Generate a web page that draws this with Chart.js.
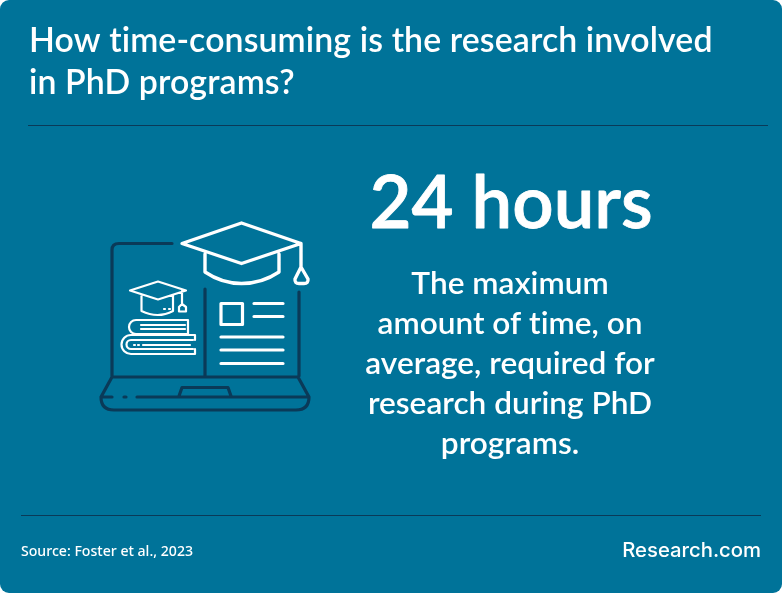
<!DOCTYPE html>
<html>
<head>
<meta charset="utf-8">
<title>PhD research time</title>
<script src="https://cdn.jsdelivr.net/npm/chart.js@4"></script>
<style>
  html, body { margin: 0; padding: 0; background: #fff; }
  canvas { display: block; }
</style>
</head>
<body>
<canvas id="chart" width="782" height="593"></canvas>
<script>
// Data
const categories = ["Maximum average research time"];
const hoursValues = [24];
const valueUnit = "hours";
const titleLines = ["How time-consuming is the research involved", "in PhD programs?"];
const bodyLines = ["The maximum", "amount of time, on", "average, required for", "research during PhD", "programs."];
const sourceText = "Source: Foster et al., 2023";
const brandText = "Research.com";

const PANEL = "#007399";
const DARK  = "#0a3a58";
const WHITE = "#ffffff";
const HEAD_FONT = "Lato, 'Noto Sans', sans-serif";

/* ──────────────────────────────────────────────────────────────
   Small helpers for the line illustration
   ────────────────────────────────────────────────────────────── */
function stroke(ctx, color, width, draw) {
  ctx.save();
  ctx.strokeStyle = color;
  ctx.lineWidth = width;
  ctx.lineCap = "round";
  ctx.lineJoin = "round";
  ctx.beginPath();
  draw(ctx);
  ctx.stroke();
  ctx.restore();
}

function seg(ctx, x1, y1, x2, y2) {
  ctx.moveTo(x1, y1);
  ctx.lineTo(x2, y2);
}

// The big headline is a touch light next to the original, so thicken it a little
function heavyText(ctx, text, x, y, weight) {
  ctx.lineWidth = weight;
  ctx.lineJoin = "round";
  ctx.strokeStyle = WHITE;
  ctx.strokeText(text, x, y);
  ctx.fillText(text, x, y);
}

function drawLaptop(ctx) {
  stroke(ctx, DARK, 3.2, c => {
    c.moveTo(112, 376);
    c.lineTo(112, 250);
    c.quadraticCurveTo(112, 243.5, 119, 243.5);
    c.lineTo(172, 243.5);
    seg(c, 205, 289, 205, 376);
    seg(c, 299, 292, 299, 376);
    // base
    c.moveTo(112, 377);
    c.lineTo(298, 377);
    c.lineTo(309, 397);
    c.quadraticCurveTo(309, 410, 296, 410);
    c.lineTo(114, 410);
    c.quadraticCurveTo(101, 410, 101, 397);
    c.closePath();
    // keyboard line with the gap and dot
    seg(c, 101, 397, 112, 397);
    seg(c, 124, 397, 126, 397);
    seg(c, 137, 397, 309, 397);
    // trackpad
    c.moveTo(179, 396);
    c.lineTo(182, 387.5);
    c.lineTo(228, 387.5);
    c.lineTo(231, 396);
  });
}

function drawBigCap(ctx) {
  stroke(ctx, WHITE, 3.4, c => {
    c.moveTo(182, 243.5);
    c.lineTo(241.5, 223);
    c.lineTo(301, 243.5);
    c.lineTo(241.5, 263.5);
    c.closePath();
    c.moveTo(205, 254);
    c.lineTo(205, 272);
    c.quadraticCurveTo(222, 283.5, 241.5, 283.5);
    c.quadraticCurveTo(262, 283.5, 279, 272);
    c.lineTo(279, 254);
    // tassel
    c.moveTo(301, 243.5);
    c.lineTo(301, 267);
    c.lineTo(295, 279);
    c.quadraticCurveTo(294.5, 283.5, 299, 283.5);
    c.lineTo(304, 283.5);
    c.quadraticCurveTo(308.5, 283.5, 308, 279);
    c.lineTo(301, 267);
  });
}

function drawSmallCap(ctx) {
  stroke(ctx, WHITE, 2.2, c => {
    c.moveTo(130, 290.5);
    c.lineTo(158, 281.5);
    c.lineTo(186, 290.5);
    c.lineTo(158, 299.5);
    c.closePath();
    c.moveTo(141.5, 295.5);
    c.lineTo(141.5, 311);
    c.quadraticCurveTo(158, 319, 173, 311);
    c.lineTo(173, 295.5);
    seg(c, 164, 309, 165, 309);
    seg(c, 169, 309, 170, 309);
    // tassel
    c.moveTo(182, 291);
    c.lineTo(182, 304);
    c.lineTo(179, 307);
    c.lineTo(179, 311.5);
    c.lineTo(186, 311.5);
    c.lineTo(186, 307);
    c.lineTo(182, 304);
  });
}

function drawBooks(ctx) {
  stroke(ctx, WHITE, 2.2, c => {
    // top book
    c.moveTo(188, 320);
    c.lineTo(136, 320);
    c.arc(136, 327, 7, -Math.PI / 2, Math.PI / 2, true);
    c.lineTo(188, 334);
    c.moveTo(188, 320);
    c.lineTo(188, 334);
    seg(c, 141, 325, 185, 325);
    seg(c, 141, 329, 185, 329);
    // lower book
    c.moveTo(195, 335);
    c.lineTo(131, 335);
    c.arc(131, 344.5, 9.5, -Math.PI / 2, Math.PI / 2, true);
    c.lineTo(195, 354);
    seg(c, 195, 335, 195, 340);
    seg(c, 195, 349, 195, 354);
    c.moveTo(193, 340);
    c.lineTo(131, 340);
    c.arc(131, 344.5, 4.5, -Math.PI / 2, Math.PI / 2, true);
    c.lineTo(193, 349);
    seg(c, 134, 345, 135, 345);
    seg(c, 138, 345, 139, 345);
    seg(c, 143, 345, 190, 345);
  });
}

function drawDocument(ctx) {
  stroke(ctx, WHITE, 3.2, c => {
    c.rect(221, 303.5, 21.5, 21);
    seg(c, 254, 303.5, 283, 303.5);
    seg(c, 254, 316.5, 283, 316.5);
    seg(c, 221, 337, 283, 337);
    seg(c, 221, 350, 283, 350);
    seg(c, 221, 363.5, 283, 363.5);
  });
}

/* ──────────────────────────────────────────────────────────────
   Panel, rules, headline value, copy and illustration
   ────────────────────────────────────────────────────────────── */
const panelPlugin = {
  id: "panel",
  beforeDraw(chart) {
    const ctx = chart.ctx;
    ctx.save();
    ctx.fillStyle = PANEL;
    ctx.beginPath();
    ctx.roundRect(0, 0, chart.width, chart.height, 9);
    ctx.fill();
    ctx.restore();
  },
  afterDraw(chart) {
    const ctx = chart.ctx;
    const value = chart.data.datasets[0].data[0];

    stroke(ctx, DARK, 1, c => {
      c.lineCap = "butt";
      seg(c, 28, 125.5, 768, 125.5);
      seg(c, 21, 515.5, 761, 515.5);
    });

    drawLaptop(ctx);
    drawBigCap(ctx);
    drawSmallCap(ctx);
    drawBooks(ctx);
    drawDocument(ctx);

    ctx.save();
    ctx.fillStyle = WHITE;
    ctx.textBaseline = "alphabetic";
    ctx.letterSpacing = "0.01px"; // keeps the "ti" ligature off

    ctx.textAlign = "center";
    ctx.font = "600 72.5px " + HEAD_FONT;
    heavyText(ctx, value + " " + valueUnit, 511, 228, 0.8);

    ctx.font = "600 31.6px " + HEAD_FONT;
    bodyLines.forEach((line, i) => ctx.fillText(line, 510, 294 + i * 40));

    ctx.textAlign = "left";
    ctx.letterSpacing = "0.12px";
    ctx.font = "600 33.8px " + HEAD_FONT;
    titleLines.forEach((line, i) => ctx.fillText(line, 29, 51.5 + i * 42.5));

    ctx.letterSpacing = "0px";
    ctx.font = "500 14.1px 'Noto Sans', sans-serif";
    ctx.fillText(sourceText, 21, 556);

    ctx.textAlign = "right";
    ctx.font = "500 20.3px Inter, sans-serif";
    ctx.fillText(brandText, 761, 557);
    ctx.restore();
  },
};

new Chart(document.getElementById("chart"), {
  type: "bar",
  data: {
    labels: categories,
    datasets: [{ label: valueUnit, data: hoursValues, hidden: true }],
  },
  options: {
    responsive: false,
    animation: false,
    devicePixelRatio: 1,
    scales: { x: { display: false }, y: { display: false, beginAtZero: true } },
    plugins: {
      legend: { display: false },
      tooltip: { enabled: false },
      title: { display: false },
    },
  },
  plugins: [panelPlugin],
});
</script>
</body>
</html>
